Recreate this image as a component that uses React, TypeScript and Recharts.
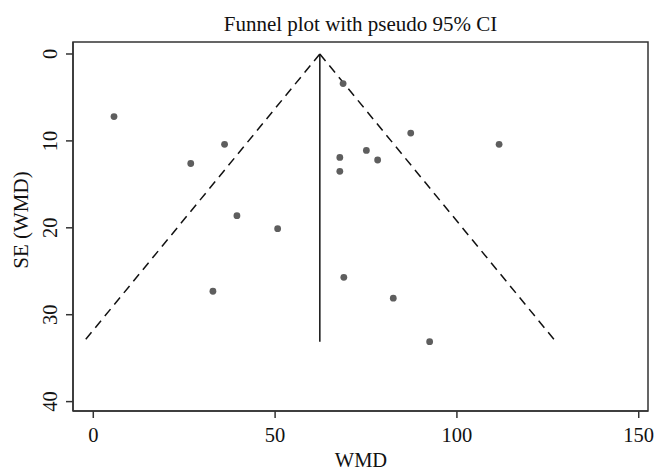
import { ScatterChart, Scatter, XAxis, YAxis, ReferenceArea } from 'recharts';

// study estimates
const studyWMD = [5.7, 26.8, 36.1, 39.5, 50.7, 32.9, 68.7, 67.8, 67.8, 75.1, 78.2, 87.3, 68.9, 82.5, 92.5, 111.6];
const studySE = [7.2, 12.6, 10.4, 18.6, 20.1, 27.3, 3.4, 11.9, 13.5, 11.1, 12.2, 9.1, 25.7, 28.1, 33.1, 10.4];

// pooled estimate line and pseudo 95% CI limits (end points)
const pooledWMD = [62.3, 62.3];
const leftLimitWMD = [62.3, -2.6];
const rightLimitWMD = [62.3, 127.2];
const limitSE = [0, 33.1];

const xTicks = [0, 50, 100, 150];
const yTicks = [0, 10, 20, 30, 40];

const FONT = '"Liberation Serif", "Times New Roman", serif';
const AXIS = '#333';

const points = studyWMD.map((x, i) => ({ x, y: studySE[i] }));
const toLine = (xs: number[]) => xs.map((x, i) => ({ x, y: limitSE[i] }));

const XTick = ({ x, y, payload }: any) => (
  <text x={x} y={y} dy={21.5} textAnchor="middle" fontFamily={FONT} fontSize={20.5} fill="#111">
    {payload.value}
  </text>
);

const YTick = ({ x, y, payload }: any) => (
  <text
    x={x - 7}
    y={y}
    transform={`rotate(-90, ${x - 7}, ${y})`}
    textAnchor="middle"
    fontFamily={FONT}
    fontSize={20.5}
    fill="#111"
  >
    {payload.value}
  </text>
);

const Dot = (p: any) => <circle cx={p.cx} cy={p.cy} r={3.4} fill="#5e5e5e" />;
const NoDot = () => <g />;

export default function App() {
  return (
    <div style={{ position: 'absolute', left: 0, top: 0, background: '#fff' }}>
      <ScatterChart width={656} height={471} margin={{ top: 42, right: 8, bottom: 0, left: 0 }}>
        <XAxis
          type="number"
          dataKey="x"
          domain={[-5.58, 152.55]}
          ticks={xTicks}
          allowDataOverflow
          height={60}
          tickSize={7}
          tick={<XTick />}
          axisLine={{ stroke: AXIS, strokeWidth: 1.5 }}
          tickLine={{ stroke: AXIS, strokeWidth: 1.5 }}
          label={() => (
            <text x={361} y={467} textAnchor="middle" fontFamily={FONT} fontSize={20.5} fill="#111">
              WMD
            </text>
          )}
        />
        <YAxis
          type="number"
          dataKey="y"
          reversed
          domain={[-1.38, 41.08]}
          ticks={yTicks}
          allowDataOverflow
          width={73}
          tickSize={7}
          tick={<YTick />}
          axisLine={{ stroke: AXIS, strokeWidth: 1.5 }}
          tickLine={{ stroke: AXIS, strokeWidth: 1.5 }}
          label={() => (
            <text
              x={27.5}
              y={220}
              transform="rotate(-90, 27.5, 220)"
              textAnchor="middle"
              fontFamily={FONT}
              fontSize={21}
              fill="#111"
            >
              SE (WMD)
            </text>
          )}
        />
        <ReferenceArea
          x1={-5.58}
          x2={152.55}
          y1={-1.38}
          y2={41.08}
          fill="none"
          stroke={AXIS}
          strokeWidth={1.5}
          fillOpacity={0}
          strokeOpacity={1}
          ifOverflow="visible"
          label={{ value: 'Funnel plot with pseudo 95% CI', position: 'top', offset: 11.5, fontFamily: FONT, fontSize: 21, fill: '#111' }}
        />
        <Scatter
          data={toLine(pooledWMD)}
          line={{ stroke: '#111', strokeWidth: 1.5 }}
          shape={<NoDot />}
          isAnimationActive={false}
        />
        <Scatter
          data={toLine(leftLimitWMD)}
          line={{ stroke: '#111', strokeWidth: 1.5, strokeDasharray: '9 6' }}
          shape={<NoDot />}
          isAnimationActive={false}
        />
        <Scatter
          data={toLine(rightLimitWMD)}
          line={{ stroke: '#111', strokeWidth: 1.5, strokeDasharray: '9 6' }}
          shape={<NoDot />}
          isAnimationActive={false}
        />
        <Scatter data={points} shape={<Dot />} isAnimationActive={false} />
      </ScatterChart>
    </div>
  );
}
